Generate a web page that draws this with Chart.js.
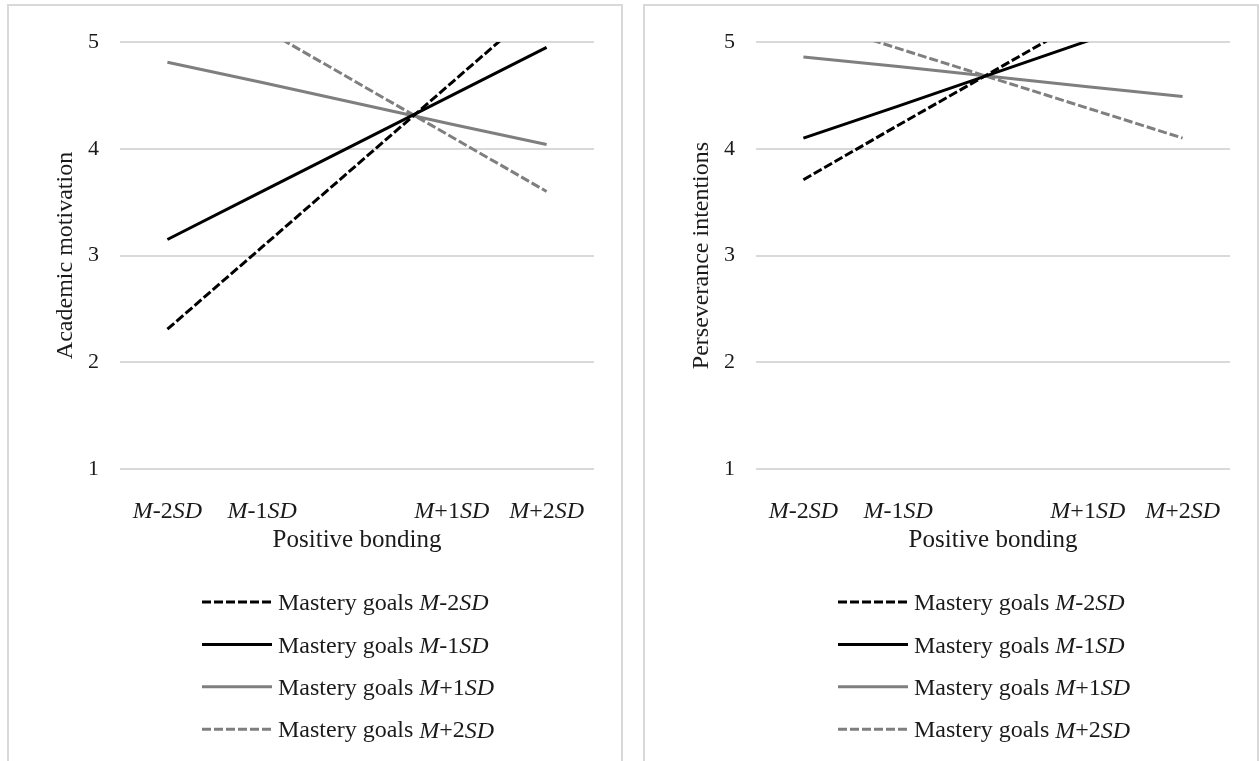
<!DOCTYPE html>
<html><head><meta charset="utf-8">
<script src="https://cdn.jsdelivr.net/npm/chart.js@4"></script>
<style>
html,body{margin:0;padding:0;background:#fff;width:1259px;height:761px;overflow:hidden}
.panel{position:absolute;top:4px;width:616px;height:790px;border:2px solid #d9d9d9;box-sizing:border-box;background:#fff}
.panel canvas{position:absolute;left:0;top:0}
</style></head><body>
<div class="panel" style="left:7px"><canvas id="c1" width="612" height="756"></canvas></div>
<div class="panel" style="left:643px"><canvas id="c2" width="612" height="756"></canvas></div>
<script>
// ---- data ----
const xLabels = ['M-2SD', 'M-1SD', '', 'M+1SD', 'M+2SD'];
const xTitle = 'Positive bonding';
const seriesNames = ['Mastery goals M-2SD', 'Mastery goals M-1SD', 'Mastery goals M+1SD', 'Mastery goals M+2SD'];
const yTicks = [1, 2, 3, 4, 5];

const motivationTitle = 'Academic motivation';
const motivationM2 = [2.31, 3.08, null, 4.62, 5.39];
const motivationM1 = [3.15, 3.60, null, 4.50, 4.95];
const motivationP1 = [4.81, 4.62, null, 4.23, 4.04];
const motivationP2 = [5.64, 5.13, null, 4.11, 3.60];

const perseveranceTitle = 'Perseverance intentions';
const perseveranceM2 = [3.71, 4.22, null, 5.23, 5.73];
const perseveranceM1 = [4.10, 4.40, null, 5.01, 5.31];
const perseveranceP1 = [4.86, 4.77, null, 4.58, 4.49];
const perseveranceP2 = [5.22, 4.94, null, 4.38, 4.10];

// ---- styles ----
const FONT = '"Liberation Serif", "Times New Roman", serif';
const TXT = '#1a1a1a';
const seriesStyles = [
  {color: '#000000', dash: [9, 3]},
  {color: '#000000', dash: []},
  {color: '#7f7f7f', dash: []},
  {color: '#7f7f7f', dash: [9, 3]}
];

function richParts(text) {
  return text.split(/(M(?=[-+])|(?<=\d)SD)/).filter(Boolean)
    .map(s => ({s, it: (s === 'M' || s === 'SD')}));
}
function drawRich(ctx, text, x, y, size, align) {
  const parts = richParts(text);
  let total = 0;
  parts.forEach(p => {
    ctx.font = (p.it ? 'italic ' : '') + size + 'px ' + FONT;
    p.w = ctx.measureText(p.s).width;
    total += p.w;
  });
  let cx = align === 'center' ? x - total / 2 : x;
  ctx.textAlign = 'left';
  ctx.textBaseline = 'middle';
  ctx.fillStyle = TXT;
  parts.forEach(p => {
    ctx.font = (p.it ? 'italic ' : '') + size + 'px ' + FONT;
    ctx.fillText(p.s, cx, y);
    cx += p.w;
  });
}

const richPlugin = {
  id: 'rich',
  afterDraw(chart) {
    const ctx = chart.ctx;
    const xs = chart.scales.x;
    ctx.save();
    xLabels.forEach((lab, i) => {
      if (lab) drawRich(ctx, lab, xs.getPixelForValue(i), 506, 24, 'center');
    });
    chart.data.datasets.forEach((ds, i) => {
      const y = 596 + i * 42.4;
      ctx.beginPath();
      ctx.strokeStyle = ds.borderColor;
      ctx.lineWidth = 3;
      ctx.lineCap = 'butt';
      ctx.setLineDash(ds.borderDash || []);
      ctx.moveTo(193, y);
      ctx.lineTo(263, y);
      ctx.stroke();
      ctx.setLineDash([]);
      drawRich(ctx, ds.label, 269, y + 2, 24, 'left');
    });
    ctx.restore();
  }
};

function makePanel(id, yTitle, series) {
  new Chart(document.getElementById(id), {
    type: 'line',
    data: {
      labels: xLabels,
      datasets: series.map((d, i) => ({
        label: seriesNames[i],
        data: d,
        borderColor: seriesStyles[i].color,
        borderDash: seriesStyles[i].dash,
        borderWidth: 3,
        borderCapStyle: 'butt',
        pointRadius: 0,
        tension: 0,
        spanGaps: true,
        fill: false
      }))
    },
    options: {
      responsive: false,
      animation: false,
      devicePixelRatio: 1,
      layout: {padding: {top: 36, right: 27, left: 0, bottom: 203}},
      plugins: {legend: {display: false}, tooltip: {enabled: false}},
      scales: {
        x: {
          offset: true,
          grid: {display: false},
          border: {display: false},
          ticks: {display: false},
          title: {display: true, text: xTitle, color: TXT, font: {family: FONT, size: 25}, padding: {top: 0, bottom: 4}},
          afterFit(s) { s.height = 90; }
        },
        y: {
          min: yTicks[0], max: yTicks[yTicks.length - 1],
          afterBuildTicks(s) { s.ticks = yTicks.map(v => ({value: v})); },
          grid: {color: '#d9d9d9', lineWidth: 2, drawTicks: false},
          border: {display: false},
          ticks: {color: TXT, font: {family: FONT, size: 22}, padding: 21},
          title: {display: true, text: yTitle, color: TXT, font: {family: FONT, size: 24}, padding: {top: 42, bottom: 0}},
          afterFit(s) { s.width = 111; }
        }
      }
    },
    plugins: [richPlugin]
  });
}

makePanel('c1', motivationTitle, [motivationM2, motivationM1, motivationP1, motivationP2]);
makePanel('c2', perseveranceTitle, [perseveranceM2, perseveranceM1, perseveranceP1, perseveranceP2]);
</script>
</body></html>
